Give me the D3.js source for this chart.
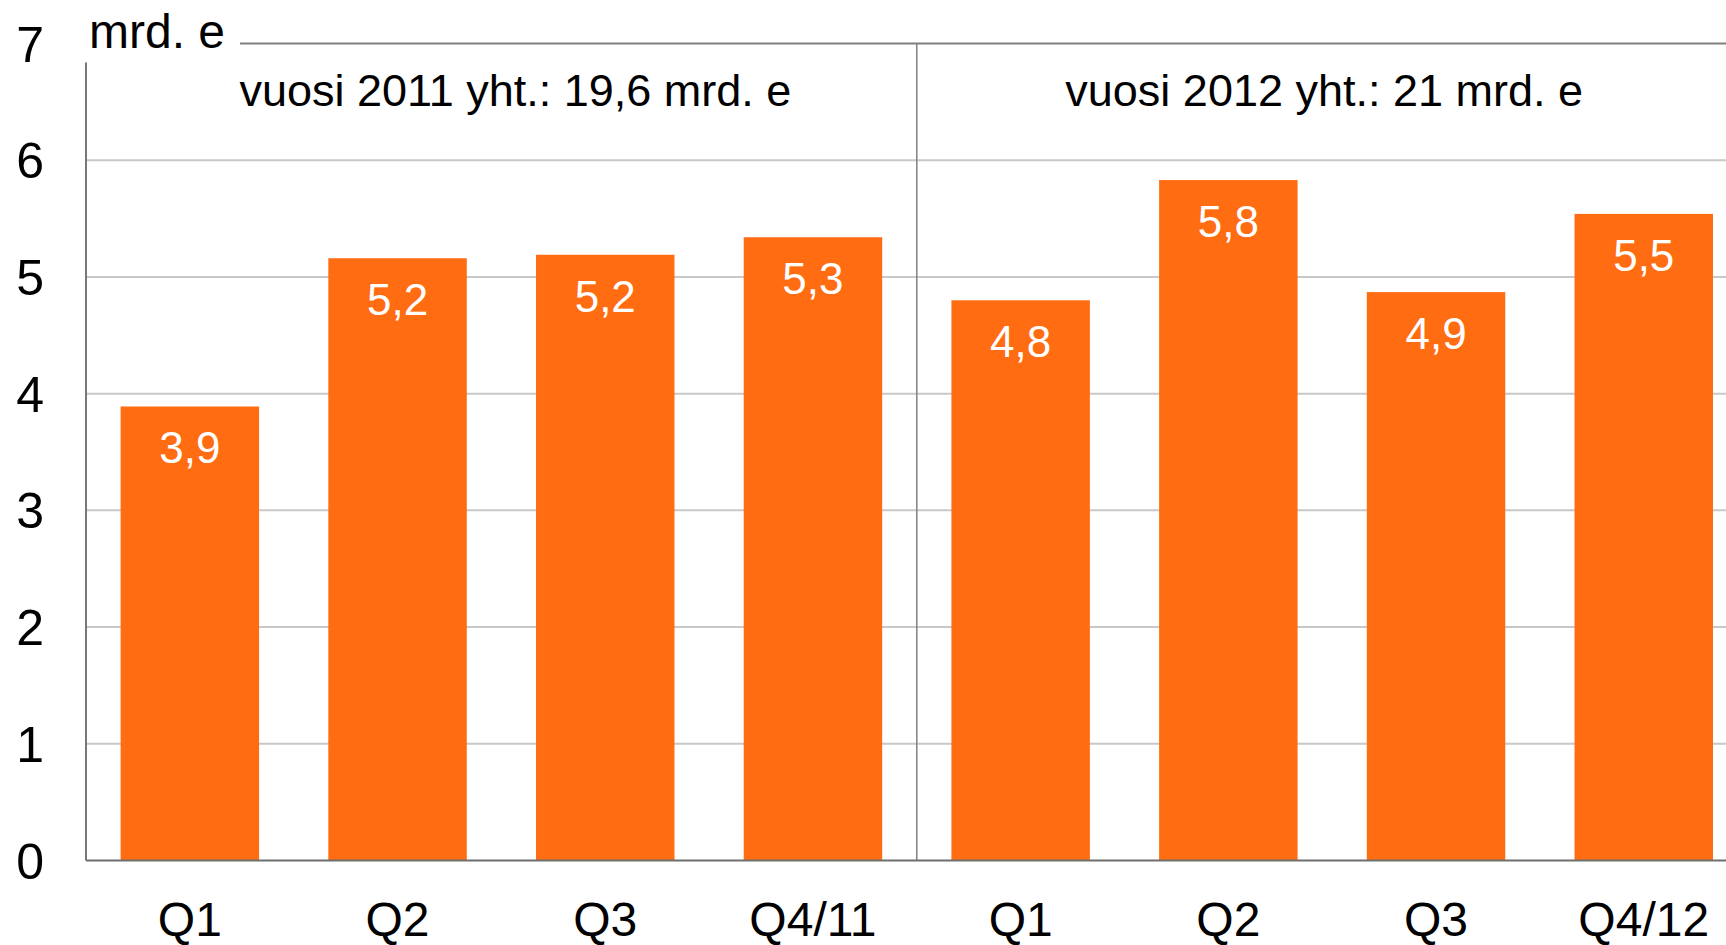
<!DOCTYPE html>
<html>
<head>
<meta charset="utf-8">
<script src="https://cdn.jsdelivr.net/npm/d3@7"></script>
<style>
  html, body { margin: 0; padding: 0; background: #fff; }
  svg { display: block; font-family: "Liberation Sans", Arial, sans-serif; }
</style>
</head>
<body>
<div id="chart"></div>
<script>
// quarterly values, mrd. e
const quarters = ["Q1", "Q2", "Q3", "Q4/11", "Q1", "Q2", "Q3", "Q4/12"];
const years = ["2011", "2011", "2011", "2011", "2012", "2012", "2012", "2012"];
const values = [3.89, 5.16, 5.19, 5.34, 4.80, 5.83, 4.87, 5.54];
const yearNames = ["2011", "2012"];
const yearTotals = ["19,6", "21"];
const yTicks = [0, 1, 2, 3, 4, 5, 6, 7];

const W = 1726, H = 945;
const left = 86, bottomY = 860.5, topY = 43.5;

const data = quarters.map((q, i) => ({ key: years[i] + "-" + q, q: q, year: years[i], v: values[i] }));

const svg = d3.select("#chart").append("svg")
    .attr("width", W)
    .attr("height", H);

const x = d3.scaleBand()
    .domain(data.map(d => d.key))
    .range([left, left + 207.7 * 8])
    .paddingInner(1 / 3)
    .paddingOuter(1 / 6);

const y = d3.scaleLinear()
    .domain([0, 7])
    .range([bottomY, topY]);

const fmt = v => d3.format(".1f")(v).replace(".", ",");

// gridlines
svg.append("g")
   .selectAll("line")
   .data(yTicks.filter(t => t > 0 && t < 7))
   .enter()
   .append("line")
   .attr("x1", left)
   .attr("x2", W)
   .attr("y1", d => y(d))
   .attr("y2", d => y(d))
   .attr("stroke", "#c8c8c8")
   .attr("stroke-width", 2);

// top line (value 7)
svg.append("line")
   .attr("x1", 240).attr("x2", W)
   .attr("y1", y(7)).attr("y2", y(7))
   .attr("stroke", "#808080")
   .attr("stroke-width", 2);

// bars
svg.append("g")
   .selectAll("rect")
   .data(data)
   .enter()
   .append("rect")
   .attr("x", d => x(d.key))
   .attr("y", d => y(d.v))
   .attr("width", x.bandwidth())
   .attr("height", d => y(0) - y(d.v))
   .attr("fill", "#ff6c12");

// value labels
svg.append("g")
   .selectAll("text")
   .data(data)
   .enter()
   .append("text")
   .attr("x", d => x(d.key) + x.bandwidth() / 2)
   .attr("y", d => y(d.v) + 57)
   .attr("text-anchor", "middle")
   .attr("fill", "#fff")
   .style("font-size", "44px")
   .text(d => fmt(d.v));

// divider between years
const divX = x(data[4].key) - x.step() * x.paddingInner() / 2;
svg.append("line")
   .attr("x1", divX).attr("x2", divX)
   .attr("y1", y(7)).attr("y2", y(0))
   .attr("stroke", "#808080")
   .attr("stroke-width", 1.5);

// left axis line
svg.append("line")
   .attr("x1", left).attr("x2", left)
   .attr("y1", y(7) + 19).attr("y2", y(0))
   .attr("stroke", "#777")
   .attr("stroke-width", 2);

// baseline
svg.append("line")
   .attr("x1", left).attr("x2", W)
   .attr("y1", y(0)).attr("y2", y(0))
   .attr("stroke", "#6e6e6e")
   .attr("stroke-width", 2);

// y tick labels
svg.append("g")
   .selectAll("text")
   .data(yTicks)
   .enter()
   .append("text")
   .attr("x", 44)
   .attr("y", d => y(d))
   .attr("dy", "0.36em")
   .attr("text-anchor", "end")
   .style("font-size", "50px")
   .text(d => d);

// unit
svg.append("text")
   .attr("x", 89)
   .attr("y", 48)
   .style("font-size", "48px")
   .text("mrd. e");

// x labels
svg.append("g")
   .selectAll("text")
   .data(data)
   .enter()
   .append("text")
   .attr("x", d => x(d.key) + x.bandwidth() / 2)
   .attr("y", 936)
   .attr("text-anchor", "middle")
   .style("font-size", "48px")
   .text(d => d.q);

// year titles
const offsets = [14, -8];
yearNames.forEach((yr, i) => {
    const keys = data.filter(d => d.year === yr).map(d => d.key);
    const x0 = x(keys[0]) - x.step() * x.paddingInner() / 2;
    const x1 = x(keys[keys.length - 1]) + x.bandwidth() + x.step() * x.paddingInner() / 2;
    svg.append("text")
       .attr("x", (x0 + x1) / 2 + offsets[i])
       .attr("y", 106)
       .attr("text-anchor", "middle")
       .style("font-size", "45px")
       .text(`vuosi ${yr} yht.: ${yearTotals[i]} mrd. e`);
});
</script>
</body>
</html>
